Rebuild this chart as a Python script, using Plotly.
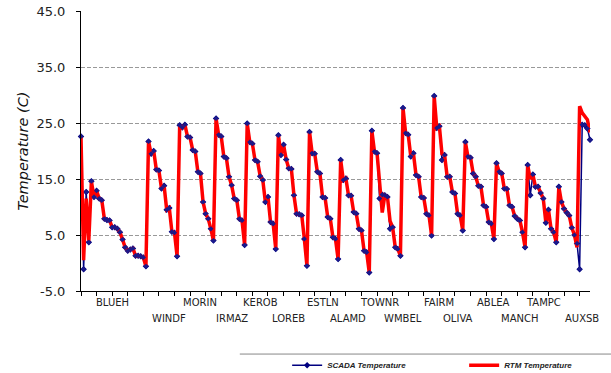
import plotly.graph_objects as go

# ---- data ----
stations = ["BLUEH", "WINDF", "MORIN", "IRMAZ", "KEROB", "LOREB", "ESTLN", "ALAMD",
            "TOWNR", "WMBEL", "FAIRM", "OLIVA", "ABLEA", "MANCH", "TAMPC", "AUXSB"]
# category index at which each station name is written on the axis
label_index = [12, 34, 46, 58, 69, 80, 93, 103, 115, 124, 138, 145, 159, 169, 178, 193]

scada = [
    # BLUEH
    22.6, -1.1, 12.7, 3.7, 14.6, 11.8, 12.9, 11.5, 11.2, 7.9, 7.7, 7.6, 6.4, 6.4, 6.1, 5.5,
    4.2, 2.8, 2.2, 2.4, 2.6, 1.3, 1.3, 1.2, 1.0, -0.6,
    # WINDF
    21.7, 19.5, 20.0, 16.7, 16.5, 13.3, 13.8, 9.5, 9.8, 5.6, 5.4, 1.2,
    # MORIN
    24.6, 24.2, 24.7, 22.6, 22.4, 20.2, 19.9, 16.3, 16.0, 10.9, 8.8, 7.9, 6.1, 4.0,
    # IRMAZ
    25.8, 22.9, 22.6, 19.0, 18.7, 15.4, 13.9, 11.5, 11.2, 7.9, 7.6, 3.2,
    # KEROB
    24.9, 21.6, 21.3, 18.4, 18.1, 15.5, 14.8, 10.9, 11.8, 7.3, 7.0, 2.5,
    # LOREB
    22.8, 19.3, 21.1, 18.5, 16.9, 16.8, 12.1, 8.8, 8.7, 8.5, 4.3, -0.5,
    # ESTLN
    23.4, 19.6, 19.5, 16.3, 16.0, 11.8, 11.6, 8.2, 7.9, 4.6, 4.3, 0.7,
    # ALAMD
    18.4, 14.8, 15.1, 12.1, 12.0, 9.1, 8.8, 6.1, 5.8, 2.2, 1.9, -1.7,
    # TOWNR
    23.6, 19.9, 19.6, 11.5, 12.2, 12.1, 11.8, 6.1, 6.4, 2.8, 2.5, 1.3,
    # WMBEL
    27.7, 23.2, 22.9, 19.0, 19.6, 15.7, 15.4, 11.8, 11.6, 8.8, 8.5, 4.9,
    # FAIRM
    29.8, 24.1, 24.4, 18.4, 19.3, 15.4, 15.4, 12.7, 12.4, 8.8, 8.5, 5.8,
    # OLIVA
    21.6, 19.0, 18.8, 16.0, 15.4, 13.8, 13.6, 10.3, 10.0, 7.3, 7.0, 4.3,
    # ABLEA
    17.8, 16.3, 16.0, 13.3, 13.2, 10.3, 10.0, 8.4, 7.9, 7.6, 5.5, 2.8,
    # MANCH
    17.5, 12.1, 15.8, 13.6, 13.6, 12.5, 11.5, 7.2, 9.5, 6.1, 5.5, 3.7,
    # TAMPC
    13.6, 10.9, 9.7, 9.0, 8.5, 6.3, 5.0, 3.5,
    # AUXSB
    -1.1, 24.7, 24.6, 24.0, 22.0,
]

rtm = [
    # BLUEH
    22.6, 0.5, 11.5, 4.0, 14.6, 11.8, 12.9, 11.5, 11.2, 7.9, 7.7, 7.6, 6.4, 6.4, 6.1, 5.5,
    4.2, 2.8, 2.2, 2.4, 2.6, 1.3, 1.3, 1.2, 1.0, -0.6,
    # WINDF
    21.7, 19.5, 20.0, 16.7, 16.5, 13.3, 13.8, 9.5, 9.8, 5.6, 5.4, 1.2,
    # MORIN
    24.6, 24.2, 24.7, 22.6, 22.4, 20.2, 19.9, 16.3, 16.0, 10.9, 8.8, 7.9, 6.1, 4.0,
    # IRMAZ
    25.8, 22.9, 22.6, 19.0, 18.7, 15.4, 13.9, 11.5, 11.2, 7.9, 7.6, 3.2,
    # KEROB
    24.9, 21.6, 21.3, 18.4, 18.1, 15.5, 14.8, 10.9, 11.8, 7.3, 7.0, 2.5,
    # LOREB
    22.8, 19.3, 21.1, 18.5, 16.9, 16.8, 12.1, 8.8, 8.7, 8.5, 4.3, -0.5,
    # ESTLN
    23.4, 19.6, 19.5, 16.3, 16.0, 11.8, 11.6, 8.2, 7.9, 4.6, 4.3, 0.7,
    # ALAMD
    18.4, 14.8, 15.1, 12.1, 12.0, 9.1, 8.8, 6.1, 5.8, 2.2, 1.9, -1.7,
    # TOWNR
    23.6, 19.9, 19.6, 13.5, 9.0, 12.1, 11.8, 7.5, 6.4, 2.8, 2.5, 1.3,
    # WMBEL
    27.7, 23.2, 22.9, 19.0, 19.6, 15.7, 15.4, 11.8, 11.6, 8.8, 8.5, 4.9,
    # FAIRM
    29.8, 24.1, 24.4, 19.5, 19.3, 15.4, 15.4, 12.7, 12.4, 8.8, 8.5, 5.8,
    # OLIVA
    21.6, 19.0, 18.8, 16.0, 15.4, 13.8, 13.6, 10.3, 10.0, 7.3, 7.0, 4.3,
    # ABLEA
    17.8, 16.3, 16.0, 13.3, 13.2, 10.3, 10.0, 8.4, 7.9, 7.6, 5.5, 2.8,
    # MANCH
    17.5, 15.0, 15.8, 13.6, 13.6, 12.5, 11.5, 7.2, 9.5, 6.1, 5.5, 3.7,
    # TAMPC
    13.6, 10.9, 9.7, 9.0, 8.5, 6.3, 5.0, 2.8,
    # AUXSB
    28.0, 26.8, 26.2, 25.6, 23.3,
]

y_ticks = [-5, 5, 15, 25, 35, 45]
y_tick_text = ["-5.0", "5.0", "15.0", "25.0", "35.0", "45.0"]

x = list(range(len(scada)))

fig = go.Figure()
fig.add_trace(go.Scatter(
    x=x, y=scada, name="SCADA Temperature", mode="lines+markers",
    line=dict(color="#000080", width=1.5),
    marker=dict(symbol="diamond", size=5, color="#000080"),
    cliponaxis=False,
))
fig.add_trace(go.Scatter(
    x=x, y=rtm, name="RTM Temperature", mode="lines",
    line=dict(color="#FF0000", width=3.5),
    cliponaxis=False,
))
# SCADA markers redrawn above the RTM line (as in the reference)
fig.add_trace(go.Scatter(
    x=x, y=scada, mode="markers", showlegend=False, hoverinfo="skip",
    marker=dict(symbol="diamond", size=4, color="#1a1a8c"),
    cliponaxis=False,
))

# staggered station labels under the axis
for k, (name, idx) in enumerate(zip(stations, label_index)):
    fig.add_annotation(
        x=idx, y=0, xref="x", yref="paper", text=name, showarrow=False,
        yanchor="top", xanchor="center", yshift=(-4 if k % 2 == 0 else -20),
        font=dict(family="DejaVu Sans", size=10, color="#222222"),
    )

# grey separator line above the legend
fig.add_shape(type="line", xref="paper", yref="paper",
              x0=0.312, x1=1.05, y0=-0.2252, y1=-0.2252,
              line=dict(color="#888888", width=1))

fig.update_xaxes(
    range=[0, len(scada) - 1], showline=True, linecolor="black", linewidth=1,
    tickmode="linear", tick0=0, dtick=6, ticks="outside", ticklen=4, tickcolor="black",
    showticklabels=False, showgrid=False, zeroline=False,
)
fig.update_yaxes(
    range=[-5, 45], tickmode="array", tickvals=y_ticks, ticktext=y_tick_text,
    showline=True, linecolor="black", linewidth=1,
    ticks="outside", ticklen=4, tickcolor="black", ticklabelstandoff=8,
    showgrid=True, gridcolor="#999999", gridwidth=1, griddash="4px,2px",
    zeroline=False,
    tickfont=dict(family="DejaVu Sans", size=13, color="#222222"),
    title=dict(text="Temperature (C)", standoff=4,
               font=dict(family="DejaVu Sans", size=14.5, style="italic", color="#111111")),
)

fig.update_layout(
    width=611, height=373,
    margin=dict(l=81, r=21, t=11, b=82, autoexpand=False),
    paper_bgcolor="white", plot_bgcolor="white",
    showlegend=True,
    legend=dict(orientation="h", x=0.405, xanchor="left", y=-0.265, yanchor="middle",
                entrywidth=132, entrywidthmode="pixels",
                font=dict(family="Liberation Sans", size=8, style="italic", weight="bold",
                          color="#222222"),
                bgcolor="rgba(0,0,0,0)"),
)

fig.write_html("out.html")
